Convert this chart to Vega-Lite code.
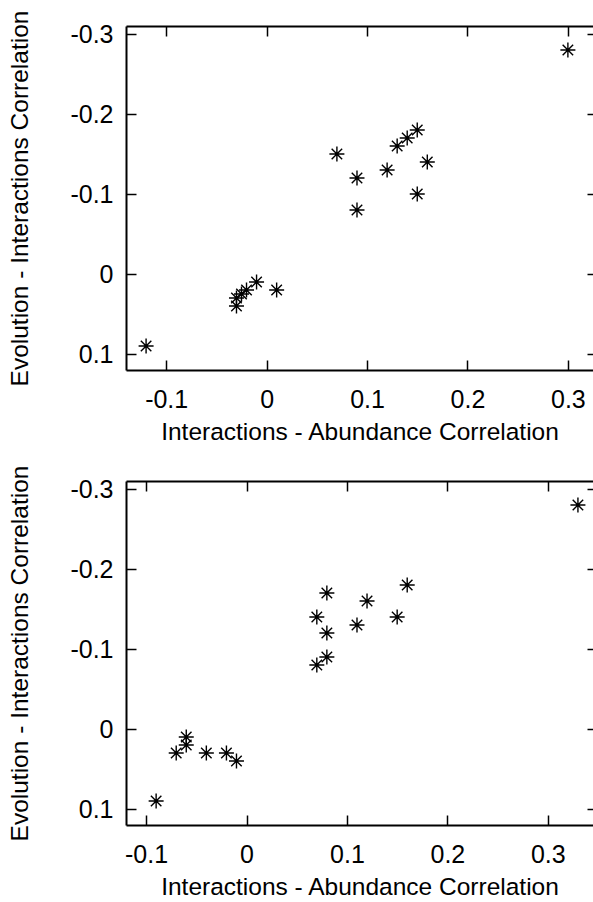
{
  "$schema": "https://vega.github.io/schema/vega-lite/v6.json",
  "background": "white",
  "padding": {"left": 7, "top": 10, "right": 0, "bottom": 0},
  "spacing": 21,
  "config": {
    "view": {"stroke": null},
    "axis": {
      "grid": false,
      "labelFont": "Liberation Sans",
      "labelFontSize": 25,
      "labelColor": "black",
      "titleFont": "Liberation Sans",
      "titleFontSize": 24.5,
      "titleFontWeight": "normal",
      "titleColor": "black",
      "tickColor": "black",
      "tickWidth": 1.5,
      "tickSize": -10,
      "domainColor": "black",
      "domainWidth": 2
    },
    "axisX": {"labelPadding": 27, "titlePadding": 8},
    "axisY": {"labelPadding": 23, "titlePadding": 37}
  },
  "datasets": {
    "top": [
      {"x": 0.30, "y": -0.28},
      {"x": 0.15, "y": -0.18},
      {"x": 0.14, "y": -0.17},
      {"x": 0.13, "y": -0.16},
      {"x": 0.07, "y": -0.15},
      {"x": 0.16, "y": -0.14},
      {"x": 0.12, "y": -0.13},
      {"x": 0.09, "y": -0.12},
      {"x": 0.15, "y": -0.10},
      {"x": 0.09, "y": -0.08},
      {"x": -0.01, "y": 0.01},
      {"x": 0.01, "y": 0.02},
      {"x": -0.02, "y": 0.02},
      {"x": -0.025, "y": 0.025},
      {"x": -0.03, "y": 0.03},
      {"x": -0.03, "y": 0.04},
      {"x": -0.12, "y": 0.09}
    ],
    "bottom": [
      {"x": 0.33, "y": -0.28},
      {"x": 0.16, "y": -0.18},
      {"x": 0.08, "y": -0.17},
      {"x": 0.12, "y": -0.16},
      {"x": 0.07, "y": -0.14},
      {"x": 0.15, "y": -0.14},
      {"x": 0.11, "y": -0.13},
      {"x": 0.08, "y": -0.12},
      {"x": 0.08, "y": -0.09},
      {"x": 0.07, "y": -0.08},
      {"x": -0.06, "y": 0.01},
      {"x": -0.06, "y": 0.02},
      {"x": -0.07, "y": 0.03},
      {"x": -0.04, "y": 0.03},
      {"x": -0.02, "y": 0.03},
      {"x": -0.01, "y": 0.04},
      {"x": -0.09, "y": 0.09}
    ]
  },
  "vconcat": [
    {
      "width": 467,
      "height": 344,
      "data": {"name": "top"},
      "layer": [
        {
          "mark": {"type": "point", "shape": "M-1,0H1M0,-1V1M-0.7,-0.7L0.7,0.7M-0.7,0.7L0.7,-0.7", "size": 225, "filled": false, "stroke": "black", "strokeWidth": 1.4, "opacity": 1},
          "encoding": {
            "x": {"field": "x", "type": "quantitative", "scale": {"domain": [-0.14, 0.325], "nice": false, "zero": false},
                  "axis": {"values": [-0.1, 0, 0.1, 0.2, 0.3], "labelExpr": "'' + datum.value", "title": "Interactions - Abundance Correlation"}},
            "y": {"field": "y", "type": "quantitative", "scale": {"domain": [-0.31, 0.12], "reverse": true, "nice": false, "zero": false},
                  "axis": {"values": [-0.3, -0.2, -0.1, 0, 0.1], "labelExpr": "'' + datum.value", "title": "Evolution - Interactions Correlation"}}
          }
        },
        {
          "mark": {"type": "point", "opacity": 0},
          "encoding": {
            "x": {"field": "x", "type": "quantitative", "scale": {"domain": [-0.14, 0.325], "nice": false, "zero": false},
                  "axis": {"orient": "top", "values": [-0.1, 0, 0.1, 0.2, 0.3], "labels": false, "title": null}},
            "y": {"field": "y", "type": "quantitative", "scale": {"domain": [-0.31, 0.12], "reverse": true, "nice": false, "zero": false},
                  "axis": {"orient": "right", "values": [-0.3, -0.2, -0.1, 0, 0.1], "labels": false, "title": null, "domain": false, "tickSize": -6}}
          }
        }
      ],
      "resolve": {"axis": {"x": "independent", "y": "independent"}}
    },
    {
      "width": 467,
      "height": 344,
      "data": {"name": "bottom"},
      "layer": [
        {
          "mark": {"type": "point", "shape": "M-1,0H1M0,-1V1M-0.7,-0.7L0.7,0.7M-0.7,0.7L0.7,-0.7", "size": 225, "filled": false, "stroke": "black", "strokeWidth": 1.4, "opacity": 1},
          "encoding": {
            "x": {"field": "x", "type": "quantitative", "scale": {"domain": [-0.12, 0.345], "nice": false, "zero": false},
                  "axis": {"values": [-0.1, 0, 0.1, 0.2, 0.3], "labelExpr": "'' + datum.value", "title": "Interactions - Abundance Correlation"}},
            "y": {"field": "y", "type": "quantitative", "scale": {"domain": [-0.31, 0.12], "reverse": true, "nice": false, "zero": false},
                  "axis": {"values": [-0.3, -0.2, -0.1, 0, 0.1], "labelExpr": "'' + datum.value", "title": "Evolution - Interactions Correlation"}}
          }
        },
        {
          "mark": {"type": "point", "opacity": 0},
          "encoding": {
            "x": {"field": "x", "type": "quantitative", "scale": {"domain": [-0.12, 0.345], "nice": false, "zero": false},
                  "axis": {"orient": "top", "values": [-0.1, 0, 0.1, 0.2, 0.3], "labels": false, "title": null}},
            "y": {"field": "y", "type": "quantitative", "scale": {"domain": [-0.31, 0.12], "reverse": true, "nice": false, "zero": false},
                  "axis": {"orient": "right", "values": [-0.3, -0.2, -0.1, 0, 0.1], "labels": false, "title": null, "domain": false, "tickSize": -6}}
          }
        }
      ],
      "resolve": {"axis": {"x": "independent", "y": "independent"}}
    }
  ]
}
